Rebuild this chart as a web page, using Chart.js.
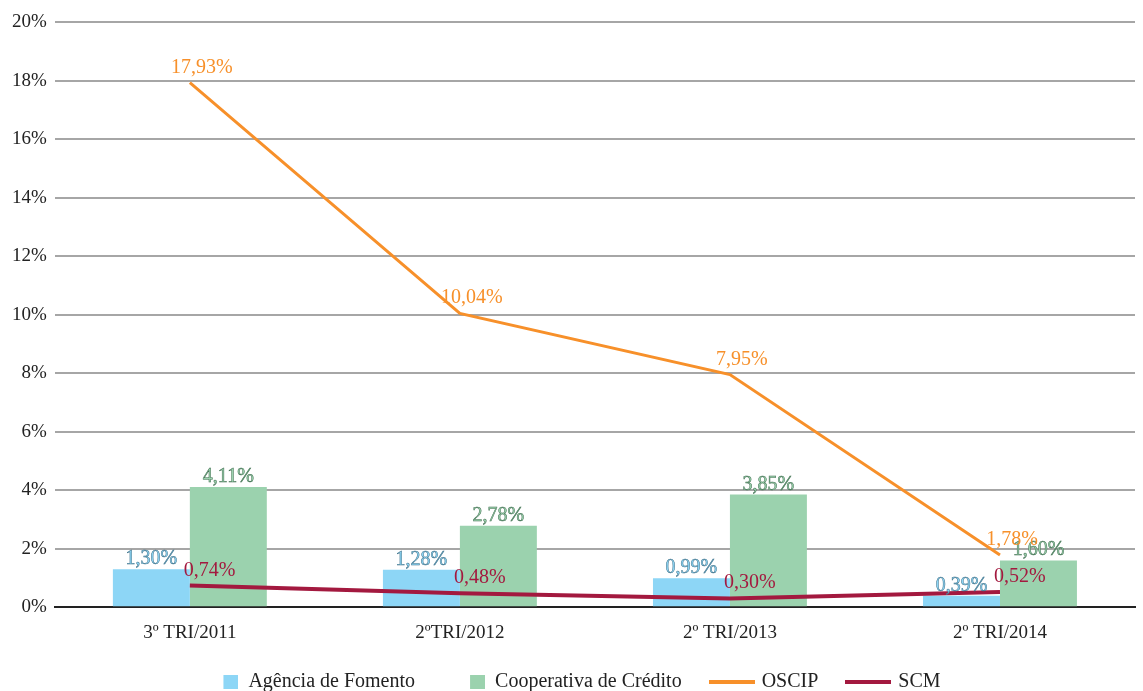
<!DOCTYPE html>
<html>
<head>
<meta charset="utf-8">
<script src="https://cdn.jsdelivr.net/npm/chart.js@4.4.0/dist/chart.umd.min.js"></script>
<style>
  body { margin: 0; background: #fff; }
</style>
</head>
<body>
<canvas id="grafico" width="1143" height="691"></canvas>
<script>
// dados do grafico
const categorias = ['3º TRI/2011', '2ºTRI/2012', '2º TRI/2013', '2º TRI/2014'];
const agenciaFomento = [1.30, 1.28, 0.99, 0.39];
const cooperativaCredito = [4.11, 2.78, 3.85, 1.60];
const oscip = [17.93, 10.04, 7.95, 1.78];
const scm = [0.74, 0.48, 0.30, 0.52];

const fonte = '"Liberation Serif", "Times New Roman", serif';

function fmt(v) {
  return v.toFixed(2).replace('.', ',') + '%';
}

// icones da legenda (quadrado encostado a direita do espaco)
function iconeRet(cor) {
  const c = document.createElement('canvas');
  c.width = 40; c.height = 14;
  const g = c.getContext('2d');
  g.fillStyle = cor;
  g.fillRect(25, 0, 15, 14);
  return c;
}
function iconeLinha(cor) {
  const c = document.createElement('canvas');
  c.width = 46; c.height = 4;
  const g = c.getContext('2d');
  g.fillStyle = cor;
  g.fillRect(0, 0, 46, 4);
  return c;
}

// rotulos de dados (sem plugin externo)
const rotulos = {
  id: 'rotulos',
  afterLayout(chart) {
    // sobe a legenda um pouco, mais perto do eixo
    chart.legend.top -= 8;
    chart.legend.bottom -= 8;
  },
  afterDatasetsDraw(chart) {
    const ctx = chart.ctx;
    ctx.save();
    ctx.font = '20px ' + fonte;
    ctx.textBaseline = 'alphabetic';
    chart.data.datasets.forEach((ds, i) => {
      const meta = chart.getDatasetMeta(i);
      meta.data.forEach((el, j) => {
        const txt = fmt(ds.data[j]);
        const x = el.x, y = el.y;
        if (ds.rotulo === 'barra') {
          ctx.textAlign = 'center';
          ctx.fillStyle = ds.backgroundColor;
          ctx.fillText(txt, x, y - 5);
          ctx.lineWidth = 0.5;
          ctx.strokeStyle = ds.corTexto;
          ctx.strokeText(txt, x, y - 5);
        } else if (ds.rotulo === 'acima') {
          ctx.textAlign = 'center';
          ctx.fillStyle = ds.borderColor;
          ctx.fillText(txt, x + 12, y - 10);
        } else {
          ctx.textAlign = 'left';
          ctx.fillStyle = ds.borderColor;
          ctx.fillText(txt, x - 6, y - 10);
        }
      });
    });
    ctx.restore();
  }
};

const ctx = document.getElementById('grafico').getContext('2d');

new Chart(ctx, {
  type: 'bar',
  data: {
    labels: categorias,
    datasets: [
      {
        label: 'Agência de Fomento',
        data: agenciaFomento,
        backgroundColor: '#8dd6f6',
        corTexto: '#3f6f86',
        rotulo: 'barra',
        order: 2,
        legendaIcone: iconeRet('#8dd6f6')
      },
      {
        label: 'Cooperativa de Crédito',
        data: cooperativaCredito,
        backgroundColor: '#9bd2ae',
        corTexto: '#3d6b4d',
        rotulo: 'barra',
        order: 2,
        legendaIcone: iconeRet('#9bd2ae')
      },
      {
        type: 'line',
        label: 'OSCIP',
        data: oscip,
        borderColor: '#f7902a',
        backgroundColor: '#f7902a',
        borderWidth: 3,
        pointRadius: 0,
        tension: 0,
        rotulo: 'acima',
        order: 1,
        legendaIcone: iconeLinha('#f7902a')
      },
      {
        type: 'line',
        label: 'SCM',
        data: scm,
        borderColor: '#a3193f',
        backgroundColor: '#a3193f',
        borderWidth: 4,
        pointRadius: 0,
        tension: 0,
        rotulo: 'direita',
        order: 0,
        legendaIcone: iconeLinha('#a3193f')
      }
    ]
  },
  options: {
    responsive: false,
    animation: false,
    layout: { padding: { top: 22, right: 8, left: 4, bottom: -19 } },
    datasets: {
      bar: { barPercentage: 1, categoryPercentage: 0.57 }
    },
    scales: {
      x: {
        grid: { display: false },
        border: { color: '#222', width: 2 },
        ticks: { color: '#222', font: { family: fonte, size: 19 }, padding: 6 }
      },
      y: {
        min: 0,
        max: 20,
        ticks: {
          stepSize: 2,
          color: '#222',
          padding: 8,
          font: { family: fonte, size: 19 },
          callback: v => v + '%'
        },
        grid: { color: '#a6a6a6', lineWidth: 2, drawTicks: false },
        border: { display: false }
      }
    },
    plugins: {
      legend: {
        position: 'bottom',
        labels: {
          usePointStyle: true,
          pointStyleWidth: 40,
          padding: 30,
          color: '#222',
          font: { family: fonte, size: 20 },
          generateLabels(chart) {
            return chart.data.datasets.map((ds, i) => ({
              text: ds.label,
              datasetIndex: i,
              pointStyle: ds.legendaIcone,
              fillStyle: ds.backgroundColor,
              strokeStyle: ds.backgroundColor,
              lineWidth: 0,
              fontColor: '#222',
              hidden: false
            }));
          }
        }
      },
      tooltip: { enabled: false }
    }
  },
  plugins: [rotulos]
});
</script>
</body>
</html>
